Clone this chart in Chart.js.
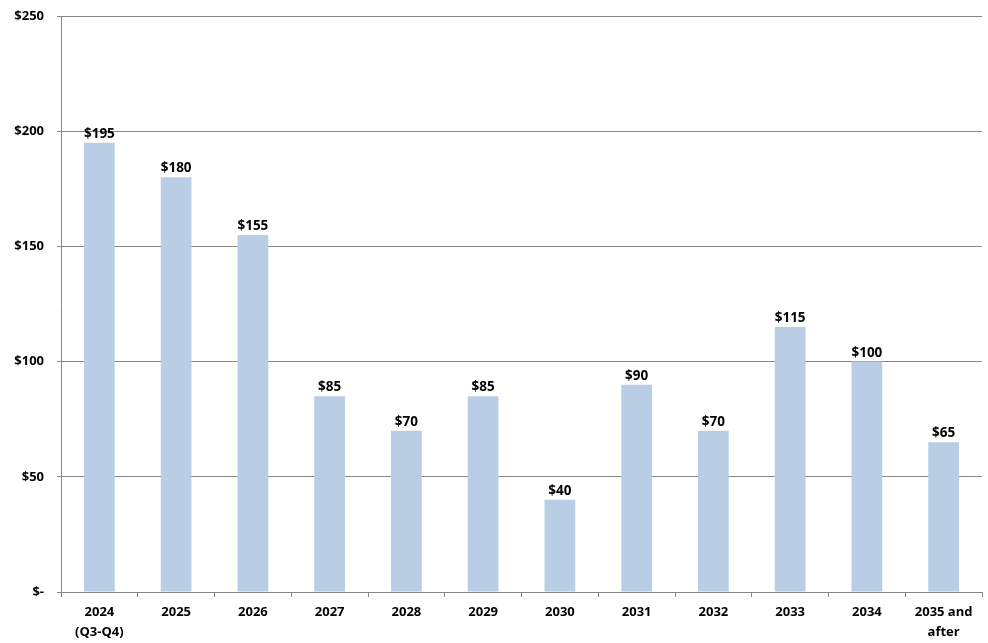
<!DOCTYPE html>
<html>
<head>
<meta charset="utf-8">
<script src="https://cdn.jsdelivr.net/npm/chart.js@4.4.0/dist/chart.umd.min.js"></script>
<style>
  html, body { margin: 0; padding: 0; background: #fff; }
  #wrap { width: 988px; height: 643px; }
</style>
</head>
<body>
<div id="wrap"><canvas id="chart" width="988" height="643"></canvas></div>
<script>
// --- Data ---
const categories = [['2024', '(Q3-Q4)'], '2025', '2026', '2027', '2028', '2029', '2030', '2031', '2032', '2033', '2034', ['2035 and', 'after']];
const values = [195, 180, 155, 85, 70, 85, 40, 90, 70, 115, 100, 65];
const yTicks = [0, 50, 100, 150, 200, 250];

const BAR_COLOR = '#B9CDE5';
const GRID_COLOR = '#868686';
const FONT = { family: '"Open Sans", sans-serif', size: 13, weight: 'bold' };

// value labels above each bar
const barLabels = {
  id: 'barLabels',
  afterDatasetsDraw(chart) {
    const ctx = chart.ctx;
    const meta = chart.getDatasetMeta(0);
    ctx.save();
    ctx.font = 'bold 13.5px "Open Sans", sans-serif';
    ctx.fillStyle = '#000';
    ctx.textAlign = 'center';
    ctx.textBaseline = 'alphabetic';
    meta.data.forEach((bar, i) => {
      ctx.fillText('$' + values[i], bar.x, bar.y - 5);
    });
    ctx.restore();
  }
};

new Chart(document.getElementById('chart'), {
  type: 'bar',
  data: {
    labels: categories,
    datasets: [{
      data: values,
      backgroundColor: BAR_COLOR,
      barPercentage: 0.4,
      categoryPercentage: 1
    }]
  },
  options: {
    responsive: false,
    animation: false,
    layout: { padding: { top: 16, right: 6 } },
    plugins: { legend: { display: false }, tooltip: { enabled: false } },
    scales: {
      x: {
        grid: { offset: true, drawOnChartArea: false, color: GRID_COLOR, tickLength: 5 },
        border: { color: GRID_COLOR },
        ticks: {
          color: '#000', font: { ...FONT, lineHeight: 1.55 },
          maxRotation: 0, autoSkip: false, padding: 5
        },
        afterFit(s) { s.height = 51; }
      },
      y: {
        min: 0, max: 250,
        afterBuildTicks(s) { s.ticks = yTicks.map(v => ({ value: v })); },
        grid: { color: GRID_COLOR, drawTicks: true, tickLength: 4 },
        border: { color: GRID_COLOR },
        ticks: {
          color: '#000', font: FONT, padding: 13,
          callback: v => v === 0 ? '$-' : '$' + v
        },
        afterFit(s) { s.width = 61; s.paddingTop = 8; s.paddingBottom = 8; }
      }
    }
  },
  plugins: [barLabels]
});
</script>
</body>
</html>
